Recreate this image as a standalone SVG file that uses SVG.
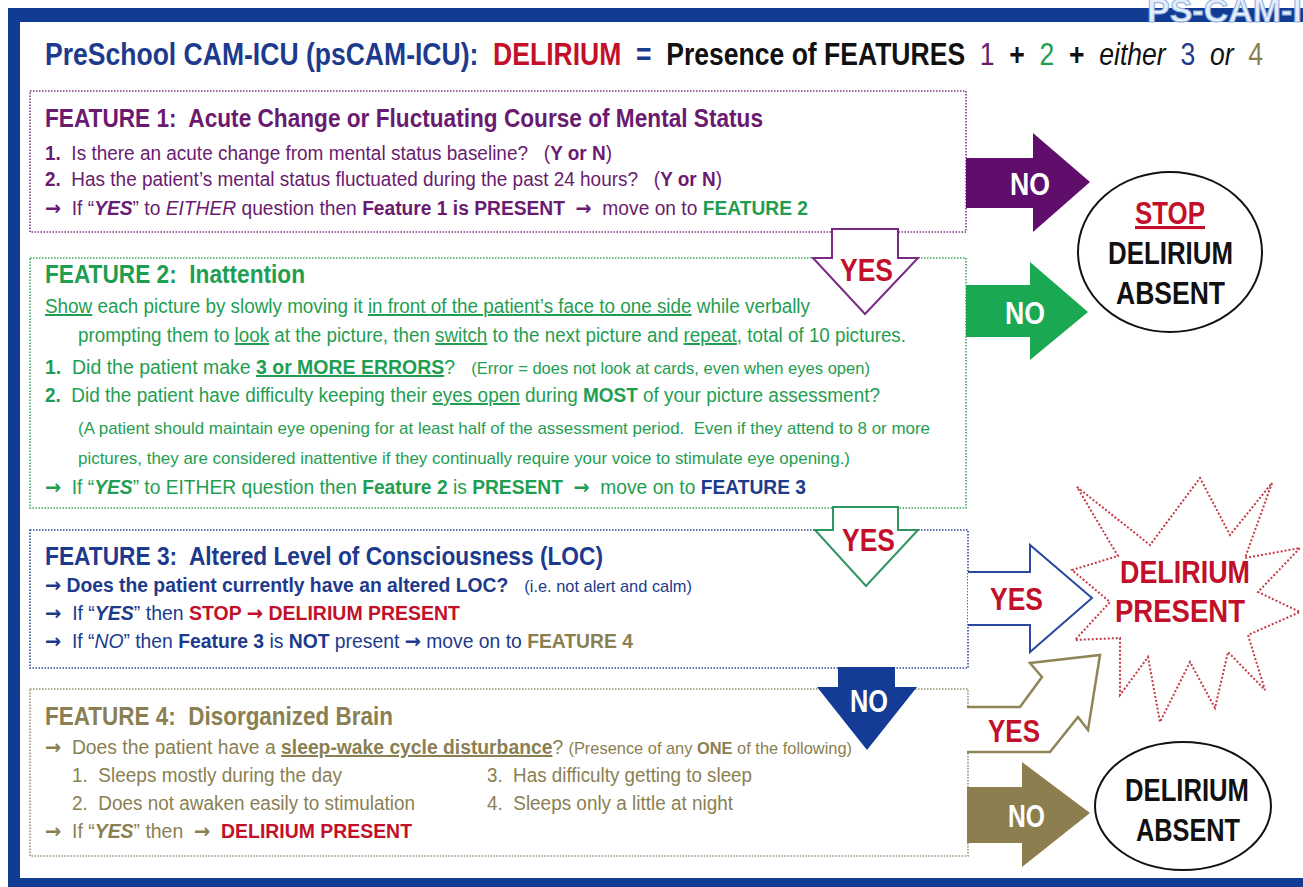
<svg xmlns="http://www.w3.org/2000/svg" width="1303" height="887" viewBox="0 0 1303 887">
  <defs>
    <style>
      text { font-family: "Liberation Sans Narrow", "Liberation Sans", Arial, sans-serif; white-space: pre; }
      .b { font-weight: bold; }
      .n { font-weight: normal; }
      .i { font-style: italic; }
      .u { text-decoration: underline; }
      .arr { font-family: "DejaVu Sans", "Liberation Sans", sans-serif; font-weight: bold; font-style: normal; }
      .head { font-size: 26px; font-weight: bold; }
      .body { font-size: 20px; }
      .small { font-size: 17px; }
      .lbl { font-size: 31px; font-weight: bold; }
      .purple { fill: #6a1b70; }
      .green { fill: #1f9e52; }
      .navy { fill: #1d3a8c; }
      .olive { fill: #8a7f52; }
      .red { fill: #c2102a; }
      .ink { fill: #111111; }
      .box { fill: none; stroke-width: 1.6; stroke-dasharray: 1.5 1.5; }
    </style>
  </defs>

  <!-- page frame -->
  <rect x="0" y="0" width="1303" height="887" fill="#ffffff"/>
  <rect x="8" y="8" width="1305" height="890" fill="#123b93"/>
  <rect x="20" y="22" width="1290" height="856" fill="#ffffff"/>
  <text x="1147" y="22" font-size="34" font-weight="bold" fill="#e4edf9" stroke="#8fb0de" stroke-width="1">PS-CAM-ICU</text>

  <!-- title -->
  <g id="title">
    <text x="45" y="65" font-size="32" class="b" textLength="1218" lengthAdjust="spacingAndGlyphs"><tspan class="navy">PreSchool CAM-ICU (psCAM-ICU):</tspan>  <tspan class="red">DELIRIUM</tspan>  <tspan class="navy">=</tspan>  <tspan class="ink">Presence of FEATURES</tspan>  <tspan class="purple n">1</tspan>  <tspan class="ink">+</tspan>  <tspan class="green n">2</tspan>  <tspan class="ink">+</tspan>  <tspan class="ink n i">either</tspan>  <tspan class="navy n">3</tspan>  <tspan class="ink n i">or</tspan>  <tspan class="olive n">4</tspan></text>
  </g>

  <!-- feature boxes -->
  <g id="feature1">
    <rect x="30" y="91" width="936" height="141" class="box" stroke="#7a3a80"/>
    <text x="45" y="127" class="head purple" textLength="718" lengthAdjust="spacingAndGlyphs">FEATURE 1:  Acute Change or Fluctuating Course of Mental Status</text>
    <text x="45" y="160" class="body purple" textLength="567" lengthAdjust="spacingAndGlyphs"><tspan class="b">1.</tspan>  Is there an acute change from mental status baseline?   (<tspan class="b">Y or N</tspan>)</text>
    <text x="45" y="186" class="body purple" textLength="677" lengthAdjust="spacingAndGlyphs"><tspan class="b">2.</tspan>  Has the patient’s mental status fluctuated during the past 24 hours?   (<tspan class="b">Y or N</tspan>)</text>
    <text x="45" y="215" class="body purple" textLength="763" lengthAdjust="spacingAndGlyphs"><tspan class="arr">→</tspan>  If “<tspan class="b i">YES</tspan>” to <tspan class="i">EITHER</tspan> question then <tspan class="b">Feature 1 is PRESENT</tspan>  <tspan class="arr">→</tspan>  move on to <tspan class="b green">FEATURE 2</tspan></text>
  </g>

  <g id="feature2">
    <rect x="30" y="258" width="936" height="250" class="box" stroke="#3aa860"/>
    <text x="45" y="283" class="head green" textLength="260" lengthAdjust="spacingAndGlyphs">FEATURE 2:  Inattention</text>
    <text x="45" y="313" class="body green" textLength="765" lengthAdjust="spacingAndGlyphs"><tspan class="u">Show</tspan> each picture by slowly moving it <tspan class="u">in front of the patient’s face to one side</tspan> while verbally</text>
    <text x="78" y="342" class="body green" textLength="828" lengthAdjust="spacingAndGlyphs">prompting them to <tspan class="u">look</tspan> at the picture, then <tspan class="u">switch</tspan> to the next picture and <tspan class="u">repeat</tspan>, total of 10 pictures.</text>
    <text x="45" y="374" class="body green" textLength="825" lengthAdjust="spacingAndGlyphs"><tspan class="b">1.</tspan>  Did the patient make <tspan class="b u">3 or MORE ERRORS</tspan>?   <tspan class="small">(Error = does not look at cards, even when eyes open)</tspan></text>
    <text x="45" y="402" class="body green" textLength="835" lengthAdjust="spacingAndGlyphs"><tspan class="b">2.</tspan>  Did the patient have difficulty keeping their <tspan class="u">eyes open</tspan> during <tspan class="b">MOST</tspan> of your picture assessment?</text>
    <text x="78" y="434" class="small green" textLength="852" lengthAdjust="spacingAndGlyphs">(A patient should maintain eye opening for at least half of the assessment period.  Even if they attend to 8 or more</text>
    <text x="78" y="464" class="small green" textLength="772" lengthAdjust="spacingAndGlyphs">pictures, they are considered inattentive if they continually require your voice to stimulate eye opening.)</text>
    <text x="45" y="494" class="body green" textLength="761" lengthAdjust="spacingAndGlyphs"><tspan class="arr">→</tspan>  If “<tspan class="b i">YES</tspan>” to EITHER question then <tspan class="b">Feature 2</tspan> is <tspan class="b">PRESENT</tspan>  <tspan class="arr">→</tspan>  move on to <tspan class="b navy">FEATURE 3</tspan></text>
  </g>

  <g id="feature3">
    <rect x="30" y="530" width="938" height="138" class="box" stroke="#34479a"/>
    <text x="45" y="565" class="head navy" textLength="558" lengthAdjust="spacingAndGlyphs">FEATURE 3:  Altered Level of Consciousness (LOC)</text>
    <text x="45" y="592" class="body navy" textLength="647" lengthAdjust="spacingAndGlyphs"><tspan class="arr">→</tspan> <tspan class="b">Does the patient currently have an altered LOC?</tspan>   <tspan class="small">(i.e. not alert and calm)</tspan></text>
    <text x="45" y="620" class="body navy" textLength="415" lengthAdjust="spacingAndGlyphs"><tspan class="arr">→</tspan>  If “<tspan class="b i">YES</tspan>” then <tspan class="b red">STOP <tspan class="arr">→</tspan> DELIRIUM PRESENT</tspan></text>
    <text x="45" y="648" class="body navy" textLength="588" lengthAdjust="spacingAndGlyphs"><tspan class="arr">→</tspan>  If “<tspan class="i">NO</tspan>” then <tspan class="b">Feature 3</tspan> is <tspan class="b">NOT</tspan> present <tspan class="arr">→</tspan> move on to <tspan class="b olive">FEATURE 4</tspan></text>
  </g>

  <g id="feature4">
    <rect x="30" y="689" width="938" height="167" class="box" stroke="#9a9070"/>
    <text x="45" y="725" class="head olive" textLength="348" lengthAdjust="spacingAndGlyphs">FEATURE 4:  Disorganized Brain</text>
    <text x="45" y="754" class="body olive" textLength="807" lengthAdjust="spacingAndGlyphs"><tspan class="arr">→</tspan>  Does the patient have a <tspan class="b u">sleep-wake cycle disturbance</tspan>? <tspan class="small">(Presence of any <tspan class="b">ONE</tspan> of the following)</tspan></text>
    <text x="72" y="782" class="body olive" textLength="270" lengthAdjust="spacingAndGlyphs">1.  Sleeps mostly during the day</text>
    <text x="487" y="782" class="body olive" textLength="265" lengthAdjust="spacingAndGlyphs">3.  Has difficulty getting to sleep</text>
    <text x="72" y="810" class="body olive" textLength="343" lengthAdjust="spacingAndGlyphs">2.  Does not awaken easily to stimulation</text>
    <text x="487" y="810" class="body olive" textLength="246" lengthAdjust="spacingAndGlyphs">4.  Sleeps only a little at night</text>
    <text x="45" y="838" class="body olive" textLength="367" lengthAdjust="spacingAndGlyphs"><tspan class="arr">→</tspan>  If “<tspan class="b i">YES</tspan>” then  <tspan class="arr">→</tspan>  <tspan class="b red">DELIRIUM PRESENT</tspan></text>
  </g>

  <!-- outcomes -->
  <g id="stop-absent">
    <ellipse cx="1170" cy="252" rx="92" ry="80" fill="#fff" stroke="#111" stroke-width="2"/>
    <text x="1135" y="224" class="lbl red u" textLength="70" lengthAdjust="spacingAndGlyphs">STOP</text>
    <text x="1108" y="264" class="lbl ink" textLength="125" lengthAdjust="spacingAndGlyphs">DELIRIUM</text>
    <text x="1116" y="304" class="lbl ink" textLength="109" lengthAdjust="spacingAndGlyphs">ABSENT</text>
  </g>

  <g id="delirium-present">
    <polygon points="1077,487 1150,545 1200,478 1230,535 1272,483 1245,558 1300,548 1258,592 1300,612 1248,635 1265,690 1228,652 1215,708 1190,662 1160,722 1148,657 1120,695 1120,638 1075,640 1110,602 1072,570 1118,556" fill="#fff" stroke="#c43a44" stroke-width="2" stroke-dasharray="2 2"/>
    <text x="1120" y="583" class="lbl red" textLength="130" lengthAdjust="spacingAndGlyphs">DELIRIUM</text>
    <text x="1115" y="622" class="lbl red" textLength="130" lengthAdjust="spacingAndGlyphs">PRESENT</text>
  </g>

  <g id="delirium-absent">
    <ellipse cx="1183" cy="806" rx="88" ry="64" fill="#fff" stroke="#111" stroke-width="2"/>
    <text x="1125" y="801" class="lbl ink" textLength="124" lengthAdjust="spacingAndGlyphs">DELIRIUM</text>
    <text x="1136" y="841" class="lbl ink" textLength="104" lengthAdjust="spacingAndGlyphs">ABSENT</text>
  </g>

  <!-- connectors -->
  <g id="connectors">
    <!-- feature 1: no -->
    <polygon points="966,158 1033,158 1033,133 1090,182 1033,232 1033,208 966,208" fill="#5f0f6b"/>
    <text x="1010" y="195" class="lbl" fill="#fff" textLength="40" lengthAdjust="spacingAndGlyphs">NO</text>
    <!-- feature 1: yes -->
    <polygon points="832,229 898,229 898,258 918,258 865,314 813,258 832,258" fill="#fff" stroke="#7a2a84" stroke-width="2"/>
    <text x="840" y="281" class="lbl red" textLength="53" lengthAdjust="spacingAndGlyphs">YES</text>
    <!-- feature 2: no -->
    <polygon points="966,285 1030,285 1030,262 1088,312 1030,360 1030,337 966,337" fill="#1aa853"/>
    <text x="1005" y="324" class="lbl" fill="#fff" textLength="40" lengthAdjust="spacingAndGlyphs">NO</text>
    <!-- feature 2: yes -->
    <polygon points="833,507 898,507 898,530 918,530 866,586 815,530 833,530" fill="#fff" stroke="#2f9560" stroke-width="2"/>
    <text x="842" y="551" class="lbl red" textLength="53" lengthAdjust="spacingAndGlyphs">YES</text>
    <!-- feature 3: yes -->
    <path d="M968,572 H1030 V545 L1092,598 L1030,652 V625 H968" fill="#fff" stroke="#2a4aa0" stroke-width="2"/>
    <text x="990" y="610" class="lbl red" textLength="53" lengthAdjust="spacingAndGlyphs">YES</text>
    <!-- feature 3: no -->
    <polygon points="838,667 895,667 895,687 917,687 867,750 817,687 838,687" fill="#143c96"/>
    <text x="850" y="712" class="lbl" fill="#fff" textLength="38" lengthAdjust="spacingAndGlyphs">NO</text>
    <!-- feature 4: yes -->
    <path d="M967,707 L1020,707 L1042,677 L1030,663 L1100,655 L1088,730 L1078,717 L1050,752 L967,752" fill="#fff" stroke="#8f8458" stroke-width="2.5"/>
    <text x="988" y="742" class="lbl red" textLength="52" lengthAdjust="spacingAndGlyphs">YES</text>
    <!-- feature 4: no -->
    <polygon points="967,787 1022,787 1022,762 1090,813 1022,867 1022,843 967,843" fill="#8c7e4f"/>
    <text x="1008" y="827" class="lbl" fill="#fff" textLength="37" lengthAdjust="spacingAndGlyphs">NO</text>
  </g>
</svg>
